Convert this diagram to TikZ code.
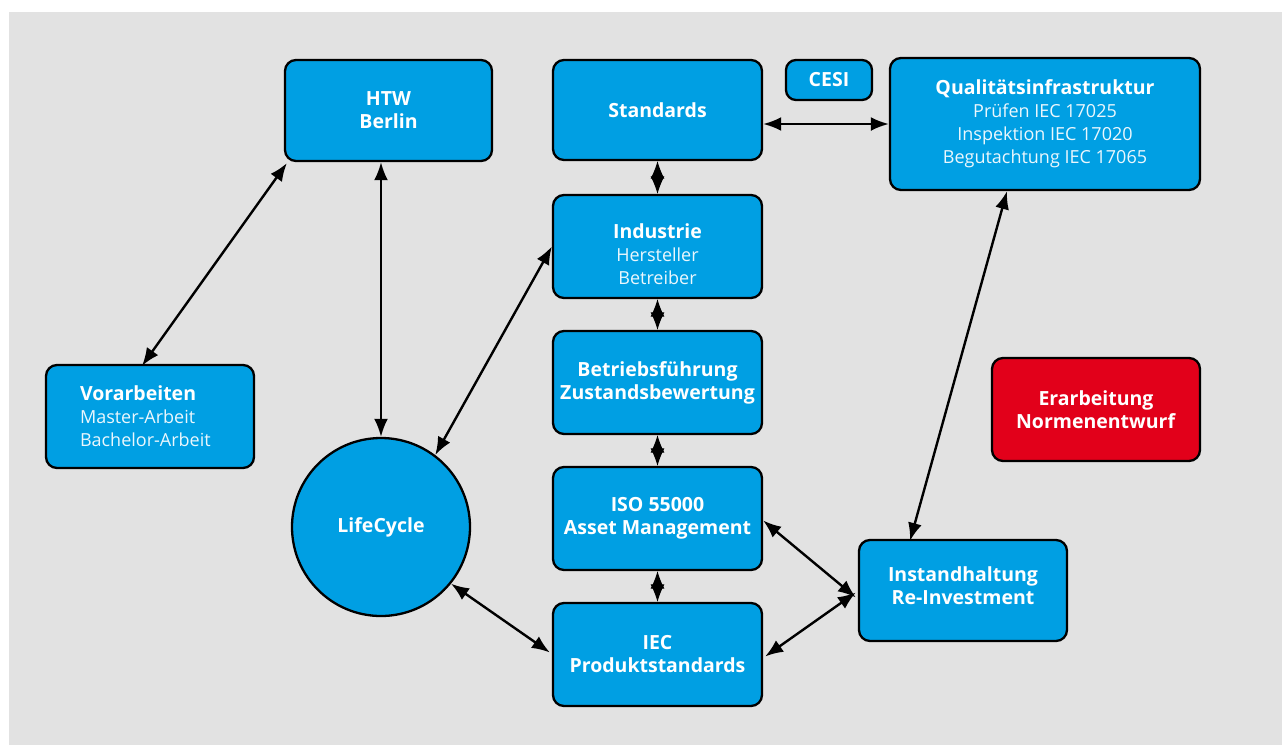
\documentclass[tikz,border=0pt]{standalone}
\usepackage{fontspec}
\setmainfont{Open Sans}
\usetikzlibrary{arrows.meta}
\definecolor{bgray}{HTML}{E2E2E2}
\definecolor{fblue}{HTML}{009FE3}
\definecolor{fred}{HTML}{E2001A}
\tikzset{
  box/.style={draw=black, line width=2.3pt, rounded corners=11pt, fill=fblue, text=white,
    align=center, font=\fontsize{18}{23}\selectfont, inner sep=0pt},
  redbox/.style={box, fill=fred},
  boxtext/.style={text=white, align=center, font=\fontsize{18}{23}\selectfont, inner sep=0pt},
  conn/.style={line width=2.4pt, {Latex[length=18pt,width=14pt]}-{Latex[length=18pt,width=14pt]}},
  dia/.style={line width=1pt, {Latex[length=17.5pt,width=14pt]}-{Latex[length=17.5pt,width=14pt]}},
}
\newcommand{\ttl}[1]{{\fontsize{19.5}{23}\selectfont\textbf{#1}}}
\newcommand{\sub}[1]{\textcolor{white!92!fblue}{#1}}
\begin{document}
\begin{tikzpicture}[x=1pt,y=-1pt]
\useasboundingbox (0,0) rectangle (1282,745);
\fill[white] (0,0) rectangle (1282,745);
\fill[bgray] (9,12) rectangle (1282,745);

\node[box, minimum width=207pt, minimum height=101pt] (htw) at (388.5,110.5) {\ttl{HTW}\\\ttl{Berlin}};
\node[box, minimum width=209pt, minimum height=100pt] (std) at (657.5,110) {\ttl{Standards}};
\node[box, minimum width=86pt, minimum height=40pt, rounded corners=10pt] (cesi) at (829,80) {\ttl{CESI}};
\node[box, minimum width=310pt, minimum height=132pt] (qual) at (1045,124) {\ttl{Qualitätsinfrastruktur}\\\sub{Prüfen IEC 17025}\\\sub{Inspektion IEC 17020}\\\sub{Begutachtung IEC 17065}};
\node[box, minimum width=209pt, minimum height=103pt,
  label={[boxtext, yshift=-8pt]center:{\ttl{Industrie}\\\sub{Hersteller}\\\sub{Betreiber}}}] (ind) at (657.5,246.5) {};
\node[box, minimum width=209pt, minimum height=103pt] (bet) at (657.5,382.5) {\ttl{Betriebsführung}\\\ttl{Zustandsbewertung}};
\node[box, minimum width=209pt, minimum height=103pt] (iso) at (657.5,518.5) {\ttl{ISO 55000}\\\ttl{Asset Management}};
\node[box, minimum width=209pt, minimum height=103pt] (iec) at (657.5,654.5) {\ttl{IEC}\\\ttl{Produktstandards}};
\node[box, minimum width=208pt, minimum height=103pt, text width=140pt, align=left] (vor) at (150,416.5) {\ttl{Vorarbeiten}\\\sub{Master-Arbeit}\\\sub{Bachelor-Arbeit}};
\node[box, circle, rounded corners=0pt, minimum size=178pt] (lc) at (381,527) {\ttl{LifeCycle}};
\node[box, minimum width=208pt, minimum height=101pt,
  label={[boxtext, yshift=5pt]center:{\ttl{Instandhaltung}\\\ttl{Re-Investment}}}] (inst) at (963,590.5) {};
\node[redbox, minimum width=208pt, minimum height=103pt] (era) at (1096,409.5) {\ttl{Erarbeitung}\\\ttl{Normenentwurf}};

% diamonds
\draw[dia] (std.south) -- (ind.north);
\draw[dia] (ind.south) -- (bet.north);
\draw[dia] (bet.south) -- (iso.north);
\draw[dia] (iso.south) -- (iec.north);

% connectors
\draw[conn] ([xshift=3pt,yshift=-1pt]htw.south west) -- ([xshift=-8pt,yshift=-2pt]vor.north);
\draw[conn] (htw.south -| lc.north) -- (lc.north);
\draw[conn] (ind.west) -- (lc.53);
\draw[conn] (std.east |- qual.west) -- (qual.west);
\draw[conn] ([xshift=-38pt]qual.south) -- ([xshift=-53pt,yshift=-2pt]inst.north);
\draw[conn] ([yshift=-2pt]iso.east) -- ([xshift=-2pt,yshift=-7pt]inst.west);
\draw[conn] ([xshift=2pt,yshift=-2pt]iec.east) -- ([xshift=-2pt,yshift=-2pt]inst.west);
\draw[conn] (lc.-39) -- ([xshift=-2pt,yshift=2pt]iec.west);
\end{tikzpicture}
\end{document}
